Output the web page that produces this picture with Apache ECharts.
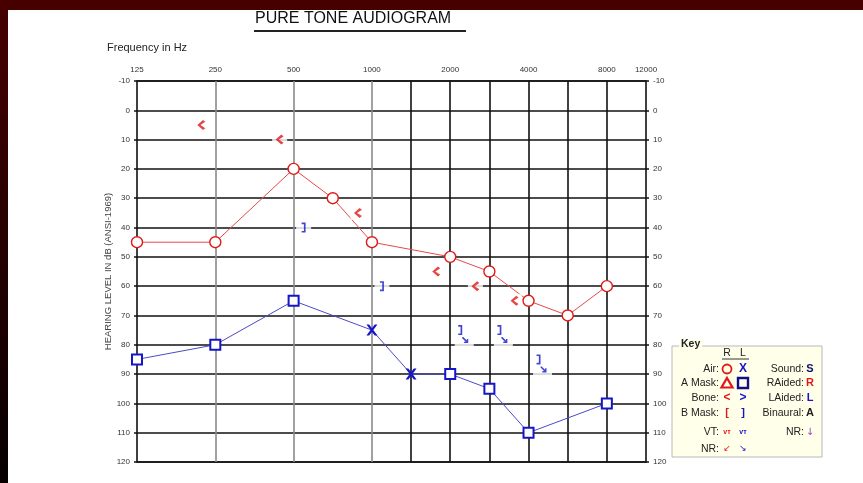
<!DOCTYPE html>
<html>
<head>
<meta charset="utf-8">
<title>Pure Tone Audiogram</title>
<script src="https://cdn.jsdelivr.net/npm/echarts@6/dist/echarts.min.js"></script>
<style>
  html, body { margin: 0; padding: 0; background: #fff; }
  #audiogram { width: 863px; height: 483px; }
</style>
</head>
<body>
<div id="audiogram"></div>
<script>
// top axis labels (Hz) and vertical grid lines
const xTickLabels = [125, 250, 500, 1000, 2000, 4000, 8000, 12000];
const grayLineFreqs = [250, 500, 1000];
const blackLineFreqs = [1500, 2000, 3000, 4000, 6000, 8000];

// right ear, air (red circles)
const rightAirFreq = [125, 250, 500, 750, 1000, 2000, 3000, 4000, 6000, 8000];
const rightAirDb = [45, 45, 20, 30, 45, 50, 55, 65, 70, 60];

// right ear, bone (red <)
const rightBoneFreq = [250, 500, 1000, 2000, 3000, 4000];
const rightBoneDb = [5, 10, 35, 55, 60, 65];

// left ear, air (blue X)
const leftAirFreq = [1000, 1500];
const leftAirDb = [75, 90];

// left ear, masked air (blue squares)
const leftMaskedAirFreq = [125, 250, 500, 2000, 3000, 4000, 8000];
const leftMaskedAirDb = [85, 80, 65, 90, 95, 110, 100];

// left ear, masked bone (blue ]), with no-response flags
const leftMaskedBoneFreq = [500, 1000, 2000, 3000, 4000];
const leftMaskedBoneDb = [40, 60, 75, 75, 85];
const leftMaskedBoneNR = [false, false, true, true, true];

const RED = '#e01818';
const BLUE = '#1616c8';
const FONT = '"Liberation Sans", Arial, sans-serif';

// audiogram x scale: evenly spaced half-octave steps from 125 Hz
const pos = (f) => Math.round(2 * Math.log2(f / 125));

const X_PATH = 'path://M0,0 L2.5,0 L5,3.2 L7.5,0 L10,0 L6.3,5 L10,10 L7.5,10 L5,6.8 L2.5,10 L0,10 L3.7,5 Z';
const LT_PATH = 'path://M6.4,0 L9,1.8 L3.6,5 L9,8.2 L6.4,10 L0,5 Z';
const RB_PATH = 'path://M0,0 L4,0 L4,10 L0,10 L0,8.4 L2.3,8.4 L2.3,1.6 L0,1.6 Z';
const ARROW_PATH = 'path://M0,0 L1.5,0 L6.1,4.6 L6.1,2.4 L8,2.4 L8,8 L2.4,8 L2.4,6.1 L4.6,6.1 L0,1.5 Z';

const labelAt = {};
xTickLabels.forEach((f) => { labelAt[pos(f)] = String(f); });

const vLineColors = [];
for (let i = 0; i <= pos(12000); i++) {
  let c = 'rgba(0,0,0,0)';
  if (grayLineFreqs.some((f) => pos(f) === i)) c = '#8a8a8a';
  if (blackLineFreqs.some((f) => pos(f) === i)) c = '#111';
  vLineColors.push(c);
}

const rightAirData = rightAirFreq.map((f, i) => [pos(f), rightAirDb[i]]);

const leftLineData = leftMaskedAirFreq
  .map((f, i) => ({ value: [pos(f), leftMaskedAirDb[i]], kind: 'mask' }))
  .concat(leftAirFreq.map((f, i) => ({ value: [pos(f), leftAirDb[i]], kind: 'air' })))
  .sort((a, b) => a.value[0] - b.value[0])
  .map((d) => d.kind === 'air'
    ? { value: d.value, symbol: X_PATH, symbolSize: 11, itemStyle: { color: BLUE, borderWidth: 0 } }
    : { value: d.value, symbol: 'rect', symbolSize: 10 });

const rightBoneData = rightBoneFreq.map((f, i) => [pos(f), rightBoneDb[i]]);
const leftBoneData = leftMaskedBoneFreq.map((f, i) => [pos(f), leftMaskedBoneDb[i]]);
const nrArrowData = leftBoneData.filter((d, i) => leftMaskedBoneNR[i]);
const leftBoneHalo = leftBoneData.map((d, i) => leftMaskedBoneNR[i]
  ? { value: d, symbolSize: [19, 26], symbolOffset: [14, 6] }
  : { value: d, symbolSize: [15, 14], symbolOffset: [10, 0] });

const dom = document.getElementById('audiogram');
const myChart = echarts.init(dom, null, { renderer: 'canvas' });

const keyLeft = ['Air:', 'A Mask:', 'Bone:', 'B Mask:', 'VT:', 'NR:'];
const keyRight = ['Sound:', 'RAided:', 'LAided:', 'Binaural:', 'NR:'];
const keyRowY = [369, 383, 398, 413, 432, 449];

const keyText = (x, y, text, opt) => ({
  type: 'text', x, y, z: 20,
  style: Object.assign({ text, font: '10.5px ' + FONT, fill: '#222', align: 'left', verticalAlign: 'middle' }, opt || {})
});

const keyGraphics = [
  { type: 'rect', z: 19, shape: { x: 672, y: 346, width: 150, height: 111 },
    style: { fill: '#ffffea', stroke: '#b8b8b8', lineWidth: 1 } },
  keyText(679, 344, 'Key', { font: 'bold 10.5px ' + FONT, backgroundColor: '#ffffea', padding: [0, 2] }),
  keyText(727, 353, 'R', { align: 'center' }),
  keyText(743, 353, 'L', { align: 'center' }),
  { type: 'line', z: 20, shape: { x1: 722, y1: 359, x2: 749, y2: 359 }, style: { stroke: '#333', lineWidth: 1 } },
  // R column symbols
  { type: 'circle', z: 20, shape: { cx: 727, cy: keyRowY[0], r: 4.5 }, style: { fill: 'none', stroke: RED, lineWidth: 1.8 } },
  { type: 'polygon', z: 20, shape: { points: [[727, keyRowY[1] - 5], [732.5, keyRowY[1] + 4.5], [721.5, keyRowY[1] + 4.5]] },
    style: { fill: 'none', stroke: RED, lineWidth: 2.2 } },
  keyText(727, keyRowY[2], '<', { align: 'center', font: 'bold 12px ' + FONT, fill: RED }),
  keyText(727, keyRowY[3], '[', { align: 'center', font: 'bold 11px ' + FONT, fill: RED }),
  keyText(727, keyRowY[4], 'vт', { align: 'center', font: 'bold 7px ' + FONT, fill: RED }),
  keyText(727, keyRowY[5], '↙', { align: 'center', font: '9px "DejaVu Sans"', fill: RED }),
  // L column symbols
  keyText(743, keyRowY[0], 'X', { align: 'center', font: 'bold 12px ' + FONT, fill: BLUE }),
  { type: 'rect', z: 20, shape: { x: 738, y: keyRowY[1] - 5, width: 10, height: 10 },
    style: { fill: 'none', stroke: '#10108a', lineWidth: 2.4 } },
  keyText(743, keyRowY[2], '>', { align: 'center', font: 'bold 12px ' + FONT, fill: BLUE }),
  keyText(743, keyRowY[3], ']', { align: 'center', font: 'bold 11px ' + FONT, fill: BLUE }),
  keyText(743, keyRowY[4], 'vт', { align: 'center', font: 'bold 7px ' + FONT, fill: BLUE }),
  keyText(743, keyRowY[5], '↘', { align: 'center', font: '9px "DejaVu Sans"', fill: BLUE }),
  keyText(810, keyRowY[0], 'S', { align: 'center', font: 'bold 11px ' + FONT, fill: '#10106a' }),
  keyText(810, keyRowY[1], 'R', { align: 'center', font: 'bold 11px ' + FONT, fill: RED }),
  keyText(810, keyRowY[2], 'L', { align: 'center', font: 'bold 11px ' + FONT, fill: BLUE }),
  keyText(810, keyRowY[3], 'A', { align: 'center', font: 'bold 11px ' + FONT, fill: '#222' }),
  keyText(810, keyRowY[4], '↓', { align: 'center', font: '10px "DejaVu Sans"', fill: '#a040c0' })
];
keyLeft.forEach((t, i) => keyGraphics.push(keyText(719, keyRowY[i], t, { align: 'right' })));
keyRight.forEach((t, i) => keyGraphics.push(keyText(804, keyRowY[i], t, { align: 'right' })));

const option = {
  animation: false,
  backgroundColor: '#fff',
  textStyle: { fontFamily: FONT },
  grid: {
    left: 137, right: 217, top: 81, bottom: 21,
    show: true, backgroundColor: '#fff', borderColor: '#111', borderWidth: 1.6
  },
  xAxis: {
    type: 'value',
    position: 'top',
    min: 0,
    max: pos(12000),
    interval: 1,
    axisLine: { show: false },
    axisTick: { show: false },
    axisLabel: {
      fontSize: 8, color: '#333', margin: 7,
      showMinLabel: true, showMaxLabel: true,
      formatter: (v) => labelAt[v] || ''
    },
    splitLine: { show: true, lineStyle: { color: vLineColors, width: 1.6 } }
  },
  yAxis: [
    {
      type: 'value',
      inverse: true,
      min: -10,
      max: 120,
      interval: 10,
      name: 'HEARING LEVEL IN dB (ANSI-1969)',
      nameLocation: 'middle',
      nameRotate: 90,
      nameGap: 24,
      nameMoveOverlap: false,
      nameTextStyle: { fontSize: 9.5, color: '#444' },
      axisLine: { show: false },
      axisTick: { show: true, length: 3, lineStyle: { color: '#111', width: 1.5 } },
      axisLabel: { fontSize: 8, color: '#333', margin: 7 },
      splitLine: { show: true, lineStyle: { color: '#111', width: 1.6 } }
    },
    {
      type: 'value',
      inverse: true,
      position: 'right',
      min: -10,
      max: 120,
      interval: 10,
      axisLine: { show: false },
      axisTick: { show: true, length: 3, lineStyle: { color: '#111', width: 1.5 } },
      axisLabel: { fontSize: 8, color: '#333', margin: 7 },
      splitLine: { show: false }
    }
  ],
  graphic: [
    { type: 'rect', z: 30, shape: { x: 0, y: 0, width: 863, height: 10 }, style: { fill: '#470000' } },
    { type: 'rect', z: 30, shape: { x: 0, y: 0, width: 8, height: 483 },
      style: { fill: new echarts.graphic.LinearGradient(0, 0, 0, 1, [
        { offset: 0, color: '#470000' }, { offset: 1, color: '#060000' }]) } },
    { type: 'text', x: 255, y: 19, z: 20,
      style: { text: 'PURE TONE AUDIOGRAM', font: '16px ' + FONT, fill: '#111', verticalAlign: 'middle' } },
    { type: 'line', z: 20, shape: { x1: 254, y1: 31, x2: 466, y2: 31 }, style: { stroke: '#222', lineWidth: 2 } },
    { type: 'text', x: 107, y: 48, z: 20,
      style: { text: 'Frequency in Hz', font: '11px ' + FONT, fill: '#222', verticalAlign: 'middle' } }
  ].concat(keyGraphics),
  series: [
    {
      name: 'Right air',
      type: 'line',
      z: 2,
      data: rightAirData,
      symbol: 'circle',
      symbolSize: 11,
      itemStyle: { color: '#fff', borderColor: RED, borderWidth: 1.4 },
      lineStyle: { color: '#e64a4a', width: 1 }
    },
    {
      name: 'Left air',
      type: 'line',
      z: 2,
      data: leftLineData,
      itemStyle: { color: '#fff', borderColor: BLUE, borderWidth: 2 },
      lineStyle: { color: '#4b4bc8', width: 1 }
    },
    {
      name: 'Right bone halo',
      type: 'scatter',
      z: 3,
      silent: true,
      data: rightBoneData,
      symbol: 'rect',
      symbolSize: [15, 14],
      symbolOffset: [-14, 0],
      itemStyle: { color: '#fff' }
    },
    {
      name: 'Left bone halo',
      type: 'scatter',
      z: 3,
      silent: true,
      data: leftBoneHalo,
      symbol: 'rect',
      itemStyle: { color: '#fff' }
    },
    {
      name: 'Right bone',
      type: 'scatter',
      z: 4,
      data: rightBoneData,
      symbol: LT_PATH,
      symbolSize: [8, 10],
      symbolOffset: [-14, 0],
      itemStyle: { color: RED }
    },
    {
      name: 'Left masked bone',
      type: 'scatter',
      z: 4,
      data: leftBoneData,
      symbol: RB_PATH,
      symbolSize: [4, 10],
      symbolOffset: [10, 0],
      itemStyle: { color: BLUE }
    },
    {
      name: 'Left masked bone NR',
      type: 'scatter',
      z: 4,
      data: nrArrowData,
      symbol: ARROW_PATH,
      symbolSize: [6, 6],
      symbolOffset: [15, 10],
      itemStyle: { color: BLUE }
    }
  ]
};

myChart.setOption(option);
window.addEventListener('resize', () => {
  myChart.resize();
});
</script>
</body>
</html>
